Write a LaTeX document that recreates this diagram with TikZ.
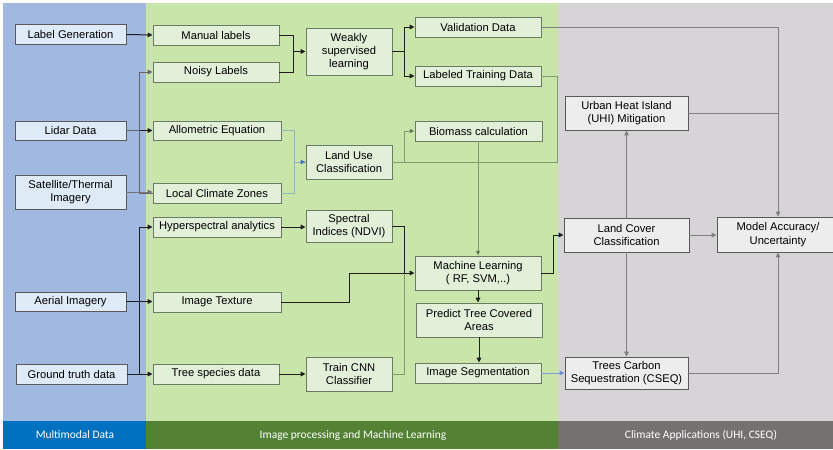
\documentclass[tikz,border=0pt]{standalone}
\usepackage{fontspec}
\setmainfont{Liberation Sans}
\newfontfamily\barfont{Carlito}
\usetikzlibrary{arrows.meta,calc}
\definecolor{bgblue}{HTML}{A1B8E1}
\definecolor{bggreen}{HTML}{C9E5AA}
\definecolor{bggray}{HTML}{D6D4D6}
\definecolor{barblue}{HTML}{0070C0}
\definecolor{bargreen}{HTML}{548235}
\definecolor{bargray}{HTML}{767171}
\definecolor{lfill}{HTML}{DEEBF7}
\definecolor{gfill}{HTML}{E2F0D9}
\definecolor{rfill}{HTML}{EDEDED}
\definecolor{gborder}{HTML}{6B7B63}
\definecolor{dline}{HTML}{1E1E1E}
\definecolor{lgline}{HTML}{7E9C6E}
\definecolor{teal}{HTML}{8FB5B5}
\definecolor{tipblue}{HTML}{4472C4}
\definecolor{rline}{HTML}{7F7F7F}
\begin{document}
\begin{tikzpicture}[x=0.75pt,y=-0.75pt,
  sz/.style 2 args={minimum width=#1*0.75pt, minimum height=#2*0.75pt},
  basebox/.style={rectangle, inner sep=0pt, align=center, font=\fontsize{8.4pt}{10pt}\selectfont, line width=0.7pt},
  lbox/.style={basebox, fill=lfill, draw=black!65},
  gbox/.style={basebox, fill=gfill, draw=gborder},
  rbox/.style={basebox, fill=rfill, draw=black!65},
  tip/.style={-{Triangle[length=3.6pt,width=3.4pt]}},
  dk/.style={draw=dline, line width=0.75pt},
  lt/.style={draw=lgline, line width=0.6pt},
  tl/.style={draw=teal, line width=0.6pt},
  gr/.style={draw=rline, line width=0.6pt},
  bartext/.style={text=white, font=\barfont\fontsize{8.6pt}{10pt}\selectfont}
]
\clip (0,0) rectangle (833,450);
\fill[white] (0,0) rectangle (833,450);
% backgrounds
\fill[bgblue] (3,3) rectangle (146,421);
\fill[bggreen] (146,3) rectangle (558,421);
\fill[bggray] (558,3) rectangle (833,421);
\fill[barblue] (3,421) rectangle (146,449);
\fill[bargreen] (146,421) rectangle (558,449);
\fill[bargray] (558,421) rectangle (833,449);
\node[bartext] (b1) at (75,435) {Multimodal Data};
\node[bartext] (b2) at (353,435) {Image processing and Machine Learning};
\node[bartext] (b3) at (701,435) {Climate Applications (UHI, CSEQ)};

% left column
\node[lbox, sz={111}{20}] (lg) at (70.5,34.5) {Label Generation};
\node[lbox, sz={111}{19}] (lidar) at (70.5,130.5) {Lidar Data};
\node[lbox, sz={111}{34}] (sat) at (70.5,192) {Satellite/Thermal\\Imagery};
\node[lbox, sz={111}{19}] (aerial) at (70.5,301.5) {Aerial Imagery};
\node[lbox, sz={111}{20}] (gt) at (71.5,374) {Ground truth data};

% middle column 1
\node[gbox, sz={126}{20}] (manual) at (216,35) {Manual labels};
\node[gbox, sz={126}{20}] (noisy) at (216,72) {Noisy Labels};
\node[gbox, sz={128}{19}] (allo) at (217,130.5) {Allometric Equation};
\node[gbox, sz={128}{20}] (lcz) at (217,193) {Local Climate Zones};
\node[gbox, sz={128}{20}] (hyper) at (217,227) {Hyperspectral analytics};
\node[gbox, sz={128}{20}] (texture) at (217,302) {Image Texture};
\node[gbox, sz={126}{20}] (species) at (216,374) {Tree species data};

% middle column 2
\node[gbox, sz={86}{47}] (weak) at (349,51.5) {Weakly\\supervised\\learning};
\node[gbox, sz={86}{34}] (landuse) at (349,162) {Land Use\\Classification};
\node[gbox, sz={86}{32}] (spectral) at (349,226) {Spectral\\Indices (NDVI)};
\node[gbox, sz={86}{34}] (cnn) at (349,374) {Train CNN\\Classifier};

% middle column 3
\node[gbox, sz={126}{20}] (valid) at (478,27) {Validation Data};
\node[gbox, sz={126}{20}] (labeled) at (478,76) {Labeled Training Data};
\node[gbox, sz={127}{20}] (biomass) at (478.5,131) {Biomass calculation};
\node[gbox, sz={126}{34}] (ml) at (478,273) {Machine Learning\\( RF, SVM,..)};
\node[gbox, sz={126}{34}] (predict) at (479,320) {Predict Tree Covered\\Areas};
\node[gbox, sz={126}{20}] (seg) at (478,373) {Image Segmentation};

% right column
\node[rbox, sz={123}{34}] (uhi) at (626.5,113) {Urban Heat Island\\(UHI) Mitigation};
\node[rbox, sz={125}{34}] (lcc) at (626.5,235) {Land Cover\\Classification};
\node[rbox, sz={122}{35}] (acc) at (778,234.5) {Model Accuracy/\\Uncertainty};
\node[rbox, sz={123}{32}] (cseq) at (626.5,373) {Trees Carbon\\Sequestration (CSEQ)};

% junction coordinates
\coordinate (jl1) at (139,130.5);
\coordinate (jl2) at (139,374);
\coordinate (jw) at (293,51.5);
\coordinate (jv) at (404,51.5);
\coordinate (jlu) at (294,162);
\coordinate (jb) at (404,162);
\coordinate (jlt) at (557,76);
\coordinate (jml) at (404,273);
\coordinate (jtx) at (349,302);
\coordinate (jlc) at (553,273);

% left connectors
\draw[dk,tip] (lg.east) -- (manual.west);
\draw[dk,tip] (lidar.east) -- (allo.west);
\draw[dk,draw=black!60,tip] (jl1) |- (noisy.west);
\draw[dk,draw=black!60] (lidar.east) -- (jl1);
\draw[dk,draw=black!60] (jl1) |- (lcz.west);
\draw[line width=0.7pt,draw=black!55,tip] (sat.east) -- (sat.east -| lcz.west);
\draw[dk,tip] (aerial.east) -- (aerial.east -| texture.west);
\draw[dk,tip] (gt.east) -- (species.west);
\draw[dk,tip] (jl2) |- (hyper.west);

% middle connectors
\draw[dk] (manual.east) -| (jw);
\draw[dk,tip] (noisy.east) -| (jw) -- (weak.west);
\draw[dk,tip] (weak.east) -- (jv) |- (valid.west);
\draw[dk,tip] (jv) |- (labeled.west);
\draw[tl] (allo.east) -| (jlu);
\draw[tl] (lcz.east) -| (jlu);
\draw[tl] (jlu) -- (landuse.west);
\fill[tipblue] (landuse.west) -- ++(-4.8,-2.3) -- ++(0,4.6) -- cycle;
\draw[lt] (labeled.east) -| (jlt) |- (landuse.east);
\draw[lt,-{Triangle[length=3.6pt,width=3.4pt,fill=dline]}] (jb) |- (biomass.west);
\draw[lt,-{Triangle[length=3.6pt,width=3.4pt,fill=dline]}] (biomass.south -| ml.north) -- (ml.north);
\draw[dk,tip] (hyper.east) -- (hyper.east -| spectral.west);
\draw[dk,tip] (species.east) -- (species.east -| cnn.west);
\draw[dk] (spectral.east) -| (jml);
\draw[lt] (cnn.east) -| (jml);
\draw[dk,tip] (texture.east) -| (jtx) |- (ml.west);
\draw[dk,tip] (ml.east) -| (jlc) |- (lcc.west);
\draw[dk,tip] (ml.south) -- (ml.south |- predict.north);
\draw[dk,tip] (predict.south) -- (predict.south |- seg.north);
\draw[line width=0.6pt, draw=tipblue!70, -{Triangle[length=3.6pt,width=3.4pt,fill=tipblue]}] (seg.east) -- (seg.east -| cseq.west);

% right connectors
\draw[gr,tip] (valid.east) -| (acc.north);
\draw[gr] (uhi.east) -- (uhi.east -| acc.north);
\draw[gr,tip] (lcc.north) -- (uhi.south);
\draw[gr,tip] (lcc.south) -- (cseq.north);
\draw[gr,tip] (lcc.east) -- (lcc.east -| acc.west);
\draw[gr,tip] (cseq.east) -| (acc.south);
\end{tikzpicture}
\end{document}
